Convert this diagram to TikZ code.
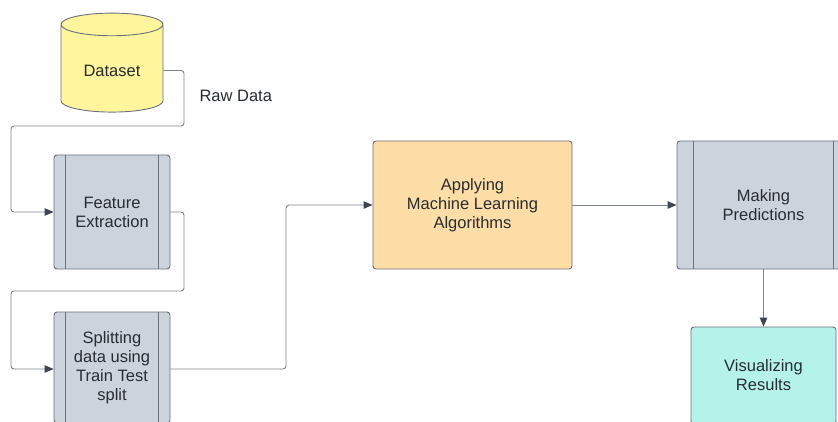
\documentclass[tikz,border=0pt]{standalone}
\usepackage{fontspec}
\setmainfont{Liberation Sans}
\usepackage{tikz}
\usetikzlibrary{shapes.geometric}
\usetikzlibrary{arrows.meta}
\definecolor{linec}{HTML}{7D838C}
\definecolor{tipc}{HTML}{3E4450}
\definecolor{borderc}{HTML}{6B717C}
\definecolor{textc}{HTML}{282C33}
\definecolor{datafill}{HTML}{FFF59D}
\definecolor{procfill}{HTML}{CDD3DD}
\definecolor{algofill}{HTML}{FFDDA6}
\definecolor{visfill}{HTML}{B5F2E9}
\tikzset{x=1pt, y=-1pt,
every node/.style={ % Sets the text of each box
font=\fontsize{16.5}{19}\selectfont,
text=textc,
align=center},
box/.style={ % Plain rounded box
rectangle,
rounded corners=3pt,
draw=borderc,
line width=0.9pt},
process/.style={ % Box with two inner bars
box,
fill=procfill},
flow/.style={ % Connectors with filled heads
draw=linec,
line width=0.9pt,
rounded corners=3pt,
-{Triangle[length=9pt,width=7.5pt,color=tipc]}}}

\begin{document}
\begin{tikzpicture}
\clip (0,0) rectangle (838,422);
\fill[white] (0,0) rectangle (838,422);
\node[cylinder, shape border rotate=90, aspect=3.4, draw=borderc, line width=0.9pt,
  fill=datafill, minimum width=102pt, minimum height=99pt,
  label={center:Dataset}] (data) at (112,70.5) {};
\node[anchor=west] (raw) at (196,96) {Raw Data};
\node[process, minimum width=116pt, minimum height=114pt] (feat) at (112,212) {Feature\\Extraction};
\node[process, minimum width=116pt, minimum height=111pt] (split) at (112,367.5) {Splitting\\data using\\Train Test\\split};
\node[box, fill=algofill, minimum width=199pt, minimum height=128pt] (algo) at (472.5,205) {Applying\\Machine Learning\\Algorithms};
\node[process, minimum width=173pt, minimum height=128pt] (pred) at (763.5,205) {Making\\Predictions};
\node[box, fill=visfill, minimum width=145pt, minimum height=97pt] (vis) at (763.5,375.5) {Visualizing\\Results};
% inner bars of the process boxes
\foreach \n/\d in {feat/12, split/12, pred/17}
  \draw[borderc, line width=0.9pt] ([xshift=\d pt]\n.north west) -- ([xshift=\d pt]\n.south west)
    ([xshift=-\d pt]\n.north east) -- ([xshift=-\d pt]\n.south east);
\draw[flow] (data.east) -- (184,70.5) -- (184,126) -- (11,126) -- (11,212) -- (feat.west);
\draw[flow] (feat.east) -- (184,212) -- (184,291) -- (11,291) -- (11,369) -- (split.west |- 0,369);
\draw[flow] (split.east |- 0,369) -- (286,369) -- (286,205) -- (algo.west);
\draw[flow] (algo.east) -- (pred.west);
\draw[flow] (pred.south) -- (vis.north);
\end{tikzpicture}
\end{document}
